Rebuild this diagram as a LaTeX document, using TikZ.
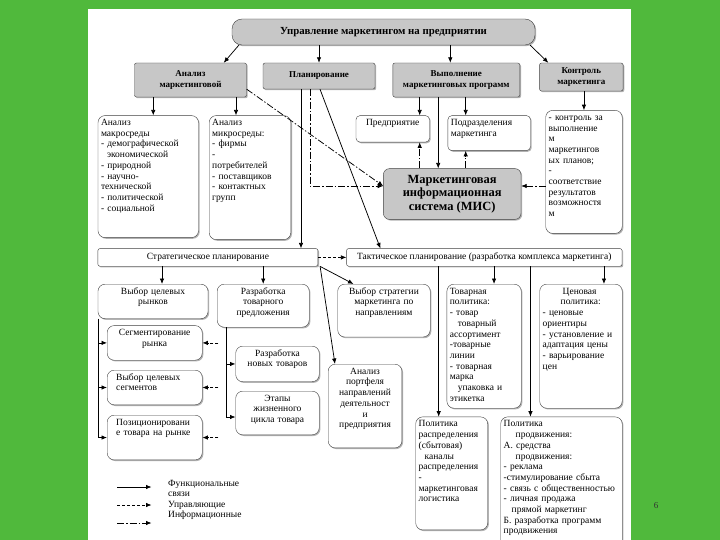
\documentclass[tikz,border=0pt]{standalone}
\usepackage{fontspec}
\setmainfont{Liberation Serif}
\usetikzlibrary{shadows,arrows.meta}
\definecolor{slidegreen}{RGB}{80,185,60}
\begin{document}
\begin{tikzpicture}[x=1pt,y=-1pt]
    % Define styles for different elements
    \tikzstyle{mainbox} = [rectangle, draw=black!75, fill=black!22, rounded corners=2pt, align=center, font=\bfseries\fontsize{9}{10.5}\selectfont, drop shadow={shadow xshift=1.2pt, shadow yshift=-1.2pt, opacity=0.6}]
    \tikzstyle{textbox} = [rectangle, draw=black!75, fill=white, rounded corners=7pt, anchor=north west, align=left, inner xsep=3pt, inner ysep=3pt, text height=7pt, font=\fontsize{9.5}{10.7}\selectfont, drop shadow={shadow xshift=1.2pt, shadow yshift=-1.2pt, opacity=0.6}]
    \tikzstyle{planbar} = [rectangle, draw=black!75, fill=white, rounded corners=2pt, font=\fontsize{9.5}{10.7}\selectfont, drop shadow={shadow xshift=1.2pt, shadow yshift=-1.2pt, opacity=0.6}]
    \tikzstyle{func} = [draw, line width=0.75pt, -{Latex[length=5.5pt,width=4.5pt]}]
    \tikzstyle{ctrl} = [draw, line width=0.75pt, dash pattern=on 3pt off 2pt, -{Latex[length=5.5pt,width=4.5pt]}]
    \tikzstyle{info} = [draw, line width=0.75pt, dash pattern=on 7pt off 2pt on 1.5pt off 2pt, -{Latex[length=5.5pt,width=4.5pt]}]

    % Slide background
    \useasboundingbox (0,0) rectangle (720,540);
    \fill[slidegreen] (0,0) rectangle (720,540);
    \fill[white] (88,9) rectangle (631,540);

    % Top level
    \node[mainbox, minimum width=303pt, minimum height=26pt, rounded corners=10pt, font=\bfseries\fontsize{10.8}{12}\selectfont] (top) at (383.5,32) {Управление маркетингом на предприятии};

    \node[mainbox, minimum width=112pt, minimum height=34pt] (analiz) at (190.5,80) {Анализ\\маркетинговой};
    \node[mainbox, minimum width=112pt, minimum height=26pt] (plan) at (319,76) {Планирование};
    \node[mainbox, minimum width=127pt, minimum height=34pt] (vypoln) at (456.3,80) {Выполнение\\маркетинговых программ};
    \node[mainbox, minimum width=83.5pt, minimum height=28pt] (kontrol) at (581.3,77) {Контроль\\маркетинга};

    % Analysis and control
    \node[textbox, text width=94.5pt, text depth=109pt] (macro) at (97.8,115.4) {Анализ\\макросреды\\- демографической\\\hspace*{6pt}экономической\\- природной\\- научно-\\технической\\- политической\\- социальной};
    \node[textbox, text width=75.6pt, text depth=111pt] (micro) at (209,115.4) {Анализ\\микросреды:\\- фирмы\\-\\потребителей\\- поставщиков\\- контактных\\групп};
    \node[textbox, align=center, rounded corners=4pt, text width=67.5pt, text depth=13.5pt] (predpr) at (355.8,115.4) {Предприятие};
    \node[textbox, rounded corners=4pt, text width=76.6pt, text depth=22pt] (podrazd) at (447.7,115.4) {Подразделения\\маркетинга};
    \node[textbox, text width=70.5pt, text depth=110pt] (kontrtext) at (545.5,110.2) {- контроль за\\выполнение\\м\\маркетингов\\ых планов;\\-\\соответствие\\результатов\\возможностя\\м};
    \node[mainbox, minimum width=137.6pt, minimum height=50.7pt, rounded corners=6pt, font=\bfseries\fontsize{12.5}{13.4}\selectfont] (mis) at (452.2,194) {Маркетинговая\\информационная\\система (МИС)};

    % Planning
    \node[planbar, minimum width=220pt, minimum height=17.6pt] (strat) at (207.9,257.4) {Стратегическое планирование};
    \node[planbar, minimum width=275.4pt, minimum height=17.6pt] (takt) at (484.3,257.4) {Тактическое планирование (разработка комплекса маркетинга)};

    \node[textbox, align=center, text width=104pt, text depth=21.5pt] (vybor) at (97.8,284) {Выбор целевых\\рынков};
    \node[textbox, align=center, text width=86pt, text depth=30pt] (razrab) at (217,284) {Разработка\\товарного\\предложения};
    \node[textbox, align=center, text width=86.5pt, text depth=39.8pt] (strateg) at (337.5,284) {Выбор стратегии\\маркетинга по\\направлениям};
    \node[textbox, text width=68.3pt, text depth=111pt] (tovar) at (446.7,284) {Товарная\\политика:\\- товар\\\hspace*{8pt}товарный\\ассортимент\\-товарные\\линии\\- товарная\\марка\\\hspace*{8pt}упаковка и\\этикетка};
    \node[textbox, text width=76.5pt, text depth=111pt] (cena) at (539.5,284) {\hspace*{20pt}Ценовая\\\hspace*{18pt}политика:\\- ценовые\\ориентиры\\- установление и\\адаптация цены\\- варьирование\\цен};

    \node[textbox, align=center, text width=89pt, text depth=21.6pt] (segm) at (107,325.4) {Сегментирование\\рынка};
    \node[textbox, inner xsep=9pt, text width=77pt, text depth=21.6pt] (vybseg) at (107,370) {Выбор целевых\\сегментов};
    \node[textbox, inner xsep=9pt, text width=77pt, text depth=31.7pt] (pozic) at (107,415) {Позиционировани\\е товара на рынке};
    \node[textbox, align=center, text width=77.5pt, text depth=22.5pt] (novye) at (235.5,346) {Разработка\\новых товаров};
    \node[textbox, align=center, text width=77.5pt, text depth=30.6pt] (etapy) at (235.5,391) {Этапы\\жизненного\\цикла товара};
    \node[textbox, align=center, text width=67.7pt, text depth=70.7pt] (portf) at (328,364) {Анализ\\портфеля\\направлений\\деятельност\\и\\предприятия};
    \node[textbox, text width=66pt, text depth=100pt] (raspr) at (415.5,416.7) {Политика\\распределения\\(сбытовая)\\\hspace*{6pt}каналы\\распределения\\-\\маркетинговая\\логистика};
    \node[textbox, text width=115.5pt, text depth=125pt] (prodv) at (500.5,416.7) {Политика\\\hspace*{12pt}продвижения:\\А. средства\\\hspace*{12pt}продвижения:\\- реклама\\-стимулирование сбыта\\- связь с общественностью\\- личная продажа\\\hspace*{8pt}прямой маркетинг\\Б. разработка программ\\продвижения};

    % Connect the nodes
    \draw[func] ([xshift=7pt]top.south west) -- ([xshift=-23pt]analiz.north east);
    \draw[func] (plan.north |- top.south) -- (plan.north);
    \draw[func] ([xshift=-6pt]vypoln.north |- top.south) -- ([xshift=-6pt]vypoln.north);
    \draw[func] ([xshift=-5pt]top.south east) -- ([xshift=9pt]kontrol.north west);
    \draw[func] ([xshift=5pt]macro.north |- analiz.south) -- ([xshift=5pt]macro.north);
    \draw[func] ([xshift=-14pt]micro.north |- analiz.south) -- ([xshift=-14pt]micro.north);
    \draw[func] (kontrtext.north |- kontrol.south) -- (kontrtext.north);
    \draw[func] ([xshift=-10pt]predpr.north east |- vypoln.south) -- ([xshift=-10pt]predpr.north east);
    \draw[func] ([xshift=18pt]podrazd.north west |- vypoln.south) -- ([xshift=18pt]podrazd.north west);
    \draw[func] ([xshift=-14pt]mis.north |- vypoln.south) -- ([xshift=-14pt]mis.north);
    \draw[info] ([xshift=-10pt]predpr.south east |- mis.north) -- ([xshift=-10pt]predpr.south east);
    \draw[info] ([xshift=18pt]podrazd.south west |- mis.north) -- ([xshift=18pt]podrazd.south west);
    \coordinate (misleft) at ([yshift=8pt]mis.west);
    \coordinate (misright) at ([yshift=8pt]mis.east);
    \draw[info] (kontrtext.west |- misright) -- (misright);
    \draw[info] ([yshift=8pt]analiz.south east) -- (misleft);
    \draw[info] ([xshift=-9pt]plan.south) |- (misleft);
    \draw[func] ([xshift=-18pt]plan.south) -- ([xshift=-18pt]plan.south |- strat.north);
    \draw[func] ([xshift=1pt]plan.south) -- ([xshift=34pt]takt.north west);

    \draw[ctrl] (strat.east) -- (takt.west);
    \draw[func] ([xshift=9pt]vybor.north |- strat.south) -- ([xshift=9pt]vybor.north);
    \draw[func] (razrab.north |- strat.south) -- (razrab.north);
    \draw[func] ([xshift=2pt]strat.south east) -- ([xshift=16pt]strateg.north west);
    \draw[func] ([xshift=2pt]strat.south east) -- ([xshift=7pt]portf.north west);
    \draw[func] ([xshift=10pt]tovar.north |- takt.south) -- ([xshift=10pt]tovar.north);
    \draw[func] ([xshift=23pt]cena.north |- takt.south) -- ([xshift=23pt]cena.north);
    \draw[func] ([xshift=-13pt]raspr.north |- takt.south) -- ([xshift=-13pt]raspr.north);
    \draw[func] ([xshift=-31pt]prodv.north |- takt.south) -- ([xshift=-31pt]prodv.north);

    \draw[func] ([xshift=1pt]vybor.south west) |- (segm.west);
    \draw[func] ([xshift=1pt]vybor.south west) |- (vybseg.west);
    \draw[func] ([xshift=1pt]vybor.south west) |- (pozic.west);
    \draw[ctrl] ([xshift=16pt]segm.east) -- (segm.east);
    \draw[ctrl] ([xshift=16pt]vybseg.east) -- (vybseg.east);
    \draw[ctrl] ([xshift=16pt]pozic.east) -- (pozic.east);
    \draw[func] ([xshift=9pt]razrab.south west) |- (novye.west);
    \draw[func] ([xshift=9pt]razrab.south west) |- ([yshift=-4pt]etapy.west);

    % Legend
    \coordinate (funcA) at (117,487);
    \coordinate (funcB) at (151.5,487);
    \coordinate (ctrlA) at (117,505);
    \coordinate (ctrlB) at (151.5,505);
    \coordinate (infoA) at (117,523);
    \coordinate (infoB) at (151.5,523);
    \draw[func] (funcA) -- (funcB);
    \draw[ctrl] (ctrlA) -- (ctrlB);
    \draw[info] (infoA) -- (infoB);
    \node[anchor=north west, align=left, inner sep=0pt, font=\fontsize{9.5}{10.3}\selectfont] (legend) at (168,480) {Функциональные\\связи\\Управляющие\\Информационные};

    \node[font=\fontsize{9}{11}\selectfont, text=black!80] (pagenum) at (656,506) {6};
\end{tikzpicture}
\end{document}
